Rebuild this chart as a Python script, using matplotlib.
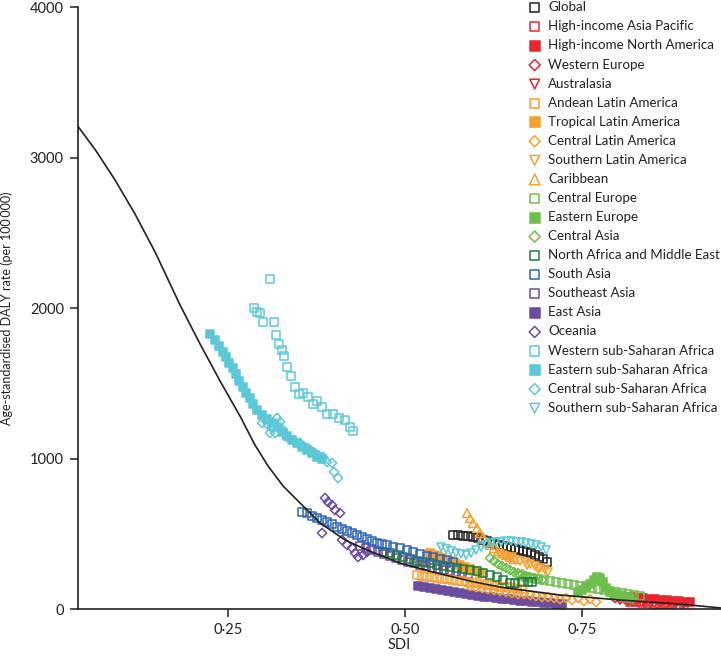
import matplotlib.pyplot as plt

plt.rcParams['font.family'] = ['Lato', 'DejaVu Sans']

ink = '#231f20'

# fitted expected value line
curve_sdi = [0.0377, 0.0636, 0.0904, 0.1186, 0.1469, 0.1822, 0.2105, 0.2387, 0.2669, 0.2881,
             0.3065, 0.3277, 0.3475, 0.3799, 0.4153, 0.4463, 0.4929, 0.5395, 0.5918, 0.6342,
             0.7189, 0.8037, 0.8884, 0.9463]
curve_daly = [3211, 3045, 2852, 2626, 2374, 2021, 1762, 1516, 1283, 1090,
              951, 818, 725, 572, 459, 392, 306, 246, 186, 146,
              93, 60, 33, 7]

global_sdi = [0.5678, 0.5749, 0.5819, 0.5890, 0.5960, 0.6031, 0.6102, 0.6158, 0.6215, 0.6271, 0.6328, 0.6384,
              0.6441, 0.6497, 0.6554, 0.6610, 0.6667, 0.6723, 0.6780, 0.6836, 0.6893, 0.6949, 0.7006]
global_daly = [492, 492, 485, 485, 479, 472, 459, 452, 439, 432, 426, 419,
               412, 406, 399, 392, 386, 379, 372, 359, 346, 332, 312]

hiap_sdi = [0.8178, 0.8263, 0.8347, 0.8432, 0.8517, 0.8602, 0.8686, 0.8771, 0.8856, 0.8941]
hiap_daly = [47, 47, 40, 40, 33, 33, 27, 27, 20, 20]

hina_sdi = [0.8107, 0.8192, 0.8277, 0.8362, 0.8446, 0.8531, 0.8616, 0.8701, 0.8785, 0.8870, 0.8955, 0.9025]
hina_daly = [80, 80, 73, 73, 66, 66, 60, 60, 53, 53, 47, 47]

weu_sdi = [0.7966, 0.8037, 0.8107, 0.8178, 0.8263, 0.8347, 0.8432, 0.8517, 0.8602, 0.8686, 0.8771]
weu_daly = [73, 66, 66, 60, 60, 53, 53, 47, 47, 40, 40]

aus_sdi = [0.8037, 0.8150, 0.8263, 0.8376, 0.8489, 0.8602, 0.8715, 0.8828, 0.8941]
aus_daly = [60, 53, 53, 47, 47, 40, 40, 33, 33]

ala_sdi = [0.5169, 0.5240, 0.5311, 0.5381, 0.5452, 0.5523, 0.5593, 0.5664, 0.5734, 0.5805, 0.5876,
           0.5946, 0.6017, 0.6088, 0.6158, 0.6229, 0.6299, 0.6370, 0.6441, 0.6511, 0.6582, 0.6653]
ala_daly = [226, 219, 213, 213, 206, 199, 199, 193, 186, 186, 180,
            173, 173, 166, 160, 160, 153, 146, 146, 140, 133, 133]

tla_sdi = [0.5353, 0.5410, 0.5466, 0.5523, 0.5579, 0.5636, 0.5706, 0.5777, 0.5847, 0.5918, 0.5989, 0.6059]
tla_daly = [372, 359, 352, 339, 326, 319, 306, 293, 279, 266, 253, 239]

cla_sdi = [0.5918, 0.6003, 0.6088, 0.6172, 0.6257, 0.6342, 0.6427, 0.6511, 0.6596, 0.6681, 0.6766,
           0.6850, 0.6935, 0.7020, 0.7105, 0.7189, 0.7274, 0.7359, 0.7444, 0.7528, 0.7613, 0.7698]
cla_daly = [153, 146, 140, 133, 126, 120, 113, 106, 100, 100, 93,
            86, 80, 80, 73, 66, 73, 60, 73, 53, 66, 47]

sla_sdi = [0.6342, 0.6412, 0.6483, 0.6511, 0.6554, 0.6624, 0.6695, 0.6723, 0.6766, 0.6836, 0.6879,
           0.6907, 0.6977, 0.7020]
sla_daly = [366, 352, 339, 346, 326, 319, 312, 292, 299, 286, 266, 273, 259, 246]

carib_sdi = [0.5876, 0.5918, 0.5960, 0.6017, 0.6059, 0.6102, 0.6158, 0.6201, 0.6257, 0.6314,
             0.6370, 0.6427, 0.6483, 0.6540]
carib_daly = [638, 605, 572, 539, 505, 479, 445, 426, 406, 386, 372, 359, 346, 332]

ceu_sdi = [0.6624, 0.6709, 0.6794, 0.6879, 0.6963, 0.7048, 0.7133, 0.7218, 0.7302, 0.7387, 0.7472,
           0.7556, 0.7641, 0.7726, 0.7811, 0.7895, 0.7980, 0.8065, 0.8150, 0.8234, 0.8319]
ceu_daly = [219, 213, 206, 199, 193, 186, 180, 173, 166, 160, 153,
            146, 140, 133, 126, 120, 113, 106, 100, 93, 86]

eeu_sdi = [0.7444, 0.7500, 0.7556, 0.7613, 0.7669, 0.7712, 0.7754, 0.7797, 0.7839, 0.7895, 0.7952,
           0.8008, 0.8065, 0.8121, 0.8178]
eeu_daly = [113, 126, 153, 166, 193, 213, 206, 180, 140, 113, 100, 93, 86, 80, 73]

cas_sdi = [0.6201, 0.6257, 0.6314, 0.6370, 0.6427, 0.6483, 0.6540, 0.6596, 0.6653, 0.6709, 0.6766,
           0.6822, 0.6879, 0.6935]
cas_daly = [339, 319, 299, 286, 273, 259, 246, 239, 233, 219, 213, 206, 199, 193]

name_sdi = [0.4689, 0.4788, 0.4887, 0.4972, 0.5071, 0.5169, 0.5254, 0.5353, 0.5452, 0.5537, 0.5636, 0.5734,
            0.5819, 0.5918, 0.6017, 0.6102, 0.6201, 0.6299, 0.6384, 0.6483, 0.6554, 0.6653, 0.6737, 0.6794]
name_daly = [379, 372, 359, 346, 332, 319, 312, 306, 293, 286, 279, 273,
             266, 259, 253, 239, 226, 213, 193, 173, 173, 180, 180, 180]

sas_sdi = [0.3545, 0.3616, 0.3686, 0.3757, 0.3828, 0.3898, 0.3969, 0.4040, 0.4110, 0.4181, 0.4252, 0.4322,
           0.4393, 0.4463, 0.4534, 0.4605, 0.4675, 0.4746, 0.4831, 0.4929, 0.5028, 0.5113, 0.5212, 0.5311,
           0.5395, 0.5494, 0.5593, 0.5678]
sas_daly = [645, 638, 618, 605, 592, 578, 565, 545, 532, 519, 505, 492,
            479, 465, 452, 439, 432, 426, 412, 406, 392, 379, 366, 352,
            346, 332, 326, 312]

sea_sdi = [0.4364, 0.4449, 0.4534, 0.4619, 0.4703, 0.4788, 0.4873, 0.4958, 0.5042, 0.5127, 0.5212,
           0.5297, 0.5381, 0.5466, 0.5551, 0.5636, 0.5720, 0.5805, 0.5890]
sea_daly = [419, 406, 392, 379, 366, 352, 339, 326, 312, 306, 293, 286, 273, 266, 259, 253, 246, 239, 233]

eas_sdi = [0.5184, 0.5268, 0.5353, 0.5438, 0.5523, 0.5607, 0.5692, 0.5777, 0.5862, 0.5946, 0.6031, 0.6116,
           0.6201, 0.6285, 0.6370, 0.6455, 0.6540, 0.6624, 0.6709, 0.6794, 0.6879, 0.6963, 0.7048,
           0.7133, 0.7218]
eas_daly = [153, 146, 140, 133, 126, 120, 113, 106, 100, 93, 86, 80,
            80, 73, 66, 66, 60, 53, 53, 47, 47, 40, 40, 33, 33]

oce_sdi = [0.3870, 0.3912, 0.3969, 0.4011, 0.4082, 0.3828, 0.4110, 0.4181, 0.4252, 0.4294, 0.4336,
           0.4407, 0.4463]
oce_daly = [738, 711, 691, 658, 638, 505, 459, 426, 406, 372, 346, 359, 379]

wssa_sdi = [0.3093, 0.2867, 0.2910, 0.2952, 0.2994, 0.3150, 0.3178, 0.3220, 0.3263, 0.3291, 0.3333,
            0.3390, 0.3446, 0.3503, 0.3559, 0.3630, 0.3701, 0.3757, 0.3828, 0.3898, 0.3983, 0.4068,
            0.4153, 0.4223, 0.4266]
wssa_daly = [2194, 2001, 1975, 1968, 1908, 1908, 1822, 1762, 1722, 1682, 1609,
             1549, 1476, 1430, 1436, 1410, 1363, 1383, 1343, 1297, 1297, 1270,
             1257, 1210, 1184]

essa_sdi = [0.2246, 0.2316, 0.2373, 0.2429, 0.2472, 0.2514, 0.2571, 0.2613, 0.2655, 0.2712, 0.2754,
            0.2811, 0.2853, 0.2910, 0.2980, 0.3051, 0.3121, 0.3192, 0.3263, 0.3333, 0.3404, 0.3475,
            0.3545, 0.3616, 0.3686, 0.3757, 0.3828]
essa_daly = [1828, 1789, 1749, 1709, 1676, 1636, 1602, 1562, 1516, 1476, 1436,
             1403, 1363, 1323, 1290, 1263, 1237, 1210, 1177, 1150, 1124, 1104,
             1077, 1057, 1037, 1011, 997]

cssa_sdi = [0.2980, 0.3023, 0.3065, 0.3121, 0.3192, 0.3234, 0.3164, 0.3093, 0.3277, 0.3333, 0.3418,
            0.3517, 0.3559, 0.3630, 0.3701, 0.3771, 0.3842, 0.3898, 0.3969, 0.3997, 0.4054]
cssa_daly = [1237, 1257, 1223, 1203, 1270, 1243, 1170, 1170, 1190, 1144, 1124,
             1104, 1077, 1070, 1044, 1024, 1011, 977, 971, 911, 871]

sssa_sdi = [0.5508, 0.5579, 0.5650, 0.5720, 0.5791, 0.5862, 0.5932, 0.6003, 0.6073, 0.6144, 0.6215,
            0.6285, 0.6356, 0.6427, 0.6497, 0.6568, 0.6638, 0.6709, 0.6780, 0.6850, 0.6921, 0.6992]
sssa_daly = [412, 399, 386, 372, 366, 359, 372, 392, 412, 426, 439,
             446, 446, 452, 452, 446, 446, 439, 432, 426, 412, 392]

red = '#e8262d'
orange = '#f7a030'
lgreen = '#6cbf4b'
dgreen = '#1d7a3c'
blue = '#2b63b6'
purple = '#6b4c9e'
cyan = '#5cc8d7'

# name, x, y, colour, marker, filled
regions = [
    ('Global', global_sdi, global_daly, ink, 's', False),
    ('High-income Asia Pacific', hiap_sdi, hiap_daly, red, 's', False),
    ('High-income North America', hina_sdi, hina_daly, red, 's', True),
    ('Western Europe', weu_sdi, weu_daly, red, 'D', False),
    ('Australasia', aus_sdi, aus_daly, red, 'v', False),
    ('Andean Latin America', ala_sdi, ala_daly, orange, 's', False),
    ('Tropical Latin America', tla_sdi, tla_daly, orange, 's', True),
    ('Central Latin America', cla_sdi, cla_daly, orange, 'D', False),
    ('Southern Latin America', sla_sdi, sla_daly, orange, 'v', False),
    ('Caribbean', carib_sdi, carib_daly, orange, '^', False),
    ('Central Europe', ceu_sdi, ceu_daly, lgreen, 's', False),
    ('Eastern Europe', eeu_sdi, eeu_daly, lgreen, 's', True),
    ('Central Asia', cas_sdi, cas_daly, lgreen, 'D', False),
    ('North Africa and Middle East', name_sdi, name_daly, dgreen, 's', False),
    ('South Asia', sas_sdi, sas_daly, blue, 's', False),
    ('Southeast Asia', sea_sdi, sea_daly, purple, 's', False),
    ('East Asia', eas_sdi, eas_daly, purple, 's', True),
    ('Oceania', oce_sdi, oce_daly, purple, 'D', False),
    ('Western sub-Saharan Africa', wssa_sdi, wssa_daly, cyan, 's', False),
    ('Eastern sub-Saharan Africa', essa_sdi, essa_daly, cyan, 's', True),
    ('Central sub-Saharan Africa', cssa_sdi, cssa_daly, cyan, 'D', False),
    ('Southern sub-Saharan Africa', sssa_sdi, sssa_daly, cyan, 'v', False),
]

sizes = {'s': 30, 'D': 22, 'v': 34, '^': 40}
# purple series sit underneath the others
low = {'Southeast Asia': 1, 'East Asia': 1}

fig = plt.figure(figsize=(7.21, 6.56), dpi=100)
ax = fig.add_axes([0.1078, 0.0716, 0.8922, 0.9173])

handles = []
for name, xs, ys, col, mk, filled in regions:
    h = ax.scatter(xs, ys, s=sizes[mk], marker=mk,
                   facecolors=col if filled else 'none', edgecolors=col,
                   linewidths=1.1, zorder=low.get(name, 2), label=name)
    handles.append(h)

ax.plot(curve_sdi, curve_daly, color=ink, lw=1.2, zorder=5)

ax.set_xlim(0.0377, 0.9463)
ax.set_ylim(0, 4000)
ax.set_xticks([0.25, 0.5, 0.75])
ax.set_xticklabels(['0·25', '0·50', '0·75'])
ax.set_yticks([0, 1000, 2000, 3000, 4000])
ax.set_yticklabels(['0', '1000', '2000', '3000', '4000'])

for side in ['top', 'right']:
    ax.spines[side].set_visible(False)
for side in ['left', 'bottom']:
    ax.spines[side].set_color(ink)
    ax.spines[side].set_linewidth(1.2)
ax.tick_params(direction='out', length=6, width=1.1, color=ink, labelsize=10.5, labelcolor=ink, pad=4)

ax.set_xlabel('SDI', fontsize=10.5, color=ink, labelpad=1)
ax.set_ylabel('Age-standardised DALY rate (per 100\u2009000)', fontsize=9, color=ink, labelpad=12)

leg = ax.legend(handles=handles, loc='upper left', bbox_to_anchor=(528 / 721, 0.998),
                bbox_transform=fig.transFigure, frameon=False, fontsize=9.6,
                handlelength=1.0, handletextpad=0.5, borderpad=0, borderaxespad=0,
                labelspacing=0.53, markerscale=1.2)
for t in leg.get_texts():
    t.set_color(ink)

fig.savefig('out.png', dpi=100)
